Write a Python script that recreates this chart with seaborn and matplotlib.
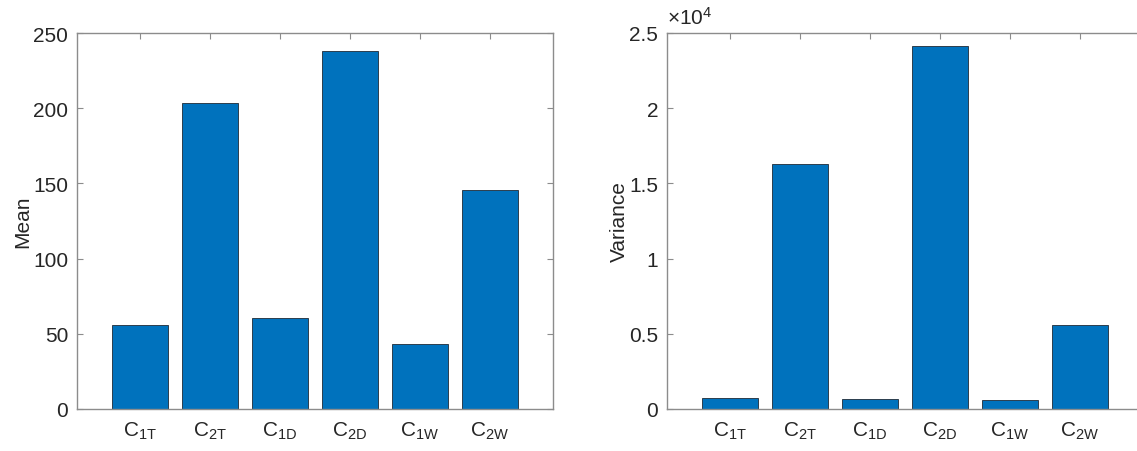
import matplotlib
matplotlib.use("Agg")
import matplotlib.pyplot as plt
import matplotlib.ticker as mticker
import pandas as pd
import seaborn as sns

categories = ["C1T", "C2T", "C1D", "C2D", "C1W", "C2W"]
tick_labels = [r"$\mathregular{C_{1T}}$", r"$\mathregular{C_{2T}}$", r"$\mathregular{C_{1D}}$",
               r"$\mathregular{C_{2D}}$", r"$\mathregular{C_{1W}}$", r"$\mathregular{C_{2W}}$"]
mean_values = [55.8, 203.5, 60.5, 238.0, 43.2, 145.5]
variance_values = [753, 16275, 664, 24136, 598, 5558]

sns.set_theme(style="white")
plt.rcParams["font.family"] = ["Liberation Sans", "DejaVu Sans"]
plt.rcParams["mathtext.fontset"] = "custom"
plt.rcParams["mathtext.rm"] = "Liberation Sans"

df = pd.DataFrame({"cat": categories, "mean": mean_values, "var": variance_values})

bar_color = "#0072BD"
text_color = "#262626"
spine_color = "#8c8c8c"

fig = plt.figure(figsize=(11.37, 4.52), dpi=100)
ax1 = fig.add_axes([76.7 / 1137, 42 / 452, 476 / 1137, 376 / 452])
ax2 = fig.add_axes([666.7 / 1137, 42 / 452, 476 / 1137, 376 / 452])


def style_axes(ax, ylabel, ymax, yticks, pad):
    ax.set_xlim(-0.9, 5.9)
    ax.set_ylim(0, ymax)
    ax.set_yticks(yticks)
    ax.set_xticks(range(len(categories)))
    ax.set_xticklabels(tick_labels)
    ax.set_xlabel("")
    ax.set_ylabel(ylabel, fontsize=15, color=text_color, labelpad=pad)
    for s in ax.spines.values():
        s.set_visible(True)
        s.set_color(spine_color)
        s.set_linewidth(1.0)
    ax.tick_params(axis="both", which="both", direction="in", length=4, width=0.8,
                   color=spine_color, labelcolor=text_color, labelsize=15,
                   top=True, right=True, bottom=True, left=True)
    ax.tick_params(axis="x", pad=8)
    ax.tick_params(axis="y", pad=6)


sns.barplot(data=df, x="cat", y="mean", color=bar_color, saturation=1, width=0.8,
            edgecolor="#1f2a36", linewidth=0.6, ax=ax1)
style_axes(ax1, "Mean", 250, [0, 50, 100, 150, 200, 250], 1)

sns.barplot(data=df, x="cat", y="var", color=bar_color, saturation=1, width=0.8,
            edgecolor="#1f2a36", linewidth=0.6, ax=ax2)
style_axes(ax2, "Variance", 25000, [0, 5000, 10000, 15000, 20000, 25000], 0)
# right panel is cut off by the figure edge in the original
ax2.spines["right"].set_visible(False)
ax2.yaxis.set_major_formatter(mticker.FuncFormatter(lambda v, p: f"{v / 1e4:g}"))
ax2.text(0.0, 1.015, r"$\mathregular{\times10^{4}}$", transform=ax2.transAxes,
         ha="left", va="bottom", fontsize=15, color=text_color)

fig.savefig("out.png", dpi=100)
